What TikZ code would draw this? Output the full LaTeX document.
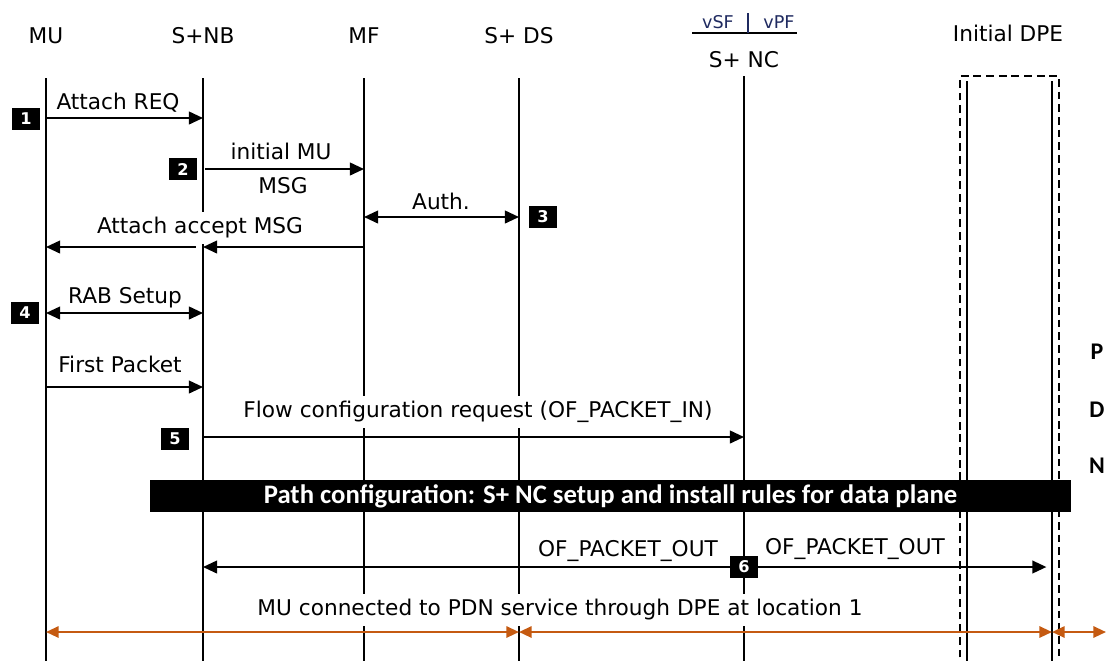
\documentclass[tikz,border=0pt]{standalone}
\usepackage{fontspec}
\setmainfont{DejaVu Sans}
\newfontfamily\barfont{Carlito}
\usetikzlibrary{arrows.meta}
\definecolor{pdnorange}{HTML}{C55A11}
\definecolor{vnavy}{HTML}{1F2A60}

\begin{document}
\begin{tikzpicture}[x=0.025cm, y=-0.025cm,
    every node/.style={font=\fontsize{15.4}{17}\selectfont, inner sep=1pt},
    life/.style={line width=1pt},
    msg/.style={line width=1.4pt, -{Triangle[length=10pt,width=9pt]}},
    msgb/.style={line width=1.4pt, {Triangle[length=10pt,width=9pt]}-{Triangle[length=10pt,width=9pt]}},
    pdn/.style={draw=pdnorange, line width=1.6pt, {Triangle[length=9pt,width=8pt]}-{Triangle[length=9pt,width=8pt]}},
    lbl/.style={fill=white, inner xsep=2pt, inner ysep=4pt},
    stepnum/.style={fill=black, text=white, font=\fontsize{11.5}{12}\selectfont\bfseries,
                    minimum width=20pt, minimum height=15.5pt, inner sep=0pt},
    banner/.style={fill=black, text=white, font=\fontsize{19}{21}\barfont\bfseries,
                   minimum width=23.025cm, minimum height=0.8cm, inner sep=0pt},
    pdnletter/.style={font=\fontsize{17}{19}\barfont\bfseries},
]
    \useasboundingbox (0,0) rectangle (1108,660);

    % 1. Lifelines with their headers
    \foreach \n/\x/\t in {mu/46/MU, nb/203/S+NB, mf/364/MF, ds/519/S+ DS} {
        \node (\n-head) at (\x,36) {\t};
        \coordinate (\n) at (\x,78);
        \coordinate (\n-end) at (\x,665);
        \draw[life] (\n) -- (\n-end);
    }
    \node (nc-head) at (744,60) {S+ NC};
    \coordinate (nc) at (744,76);
    \coordinate (nc-end) at (744,665);
    \draw[life] (nc) -- (nc-end);

    % vSF | vPF above the controller
    \node[font=\fontsize{12.5}{14}\selectfont, text=vnavy] (vsf) at (718,22) {vSF};
    \node[font=\fontsize{12.5}{14}\selectfont, text=vnavy] (vpf) at (779,22) {vPF};
    \draw[line width=1pt] (692,33) -- (797,33);
    \draw[line width=1pt, vnavy] (748,13) -- (748,33);

    % 2. Initial DPE: dashed frame and double line
    \node (dpe-head) at (1008,33) {Initial DPE};
    \draw[dashed, dash pattern=on 5.5pt off 3.5pt, line width=1pt] (960,670) |- (1059,76) -- (1059,670);
    \coordinate (dpe-l) at (967,81);
    \coordinate (dpe-r) at (1052,81);
    \draw[line width=1.1pt] (dpe-l) -- (967,670);
    \draw[line width=1.1pt] (dpe-r) -- (1052,670);

    % 3. Rows of the messages
    \foreach \r/\y in {r1/118, r2/169, r3/217, r4/247, r5/313, r6/387, r7/437, r8/567, r9/632} {
        \coordinate (\r) at (0,\y);
    }

    % 4. Message labels (white fill cuts the lifelines)
    \node[lbl] (l-req) at (118,103) {Attach REQ};
    \node[lbl] (l-init) at (281,151) {initial MU};
    \node[lbl] (l-msg) at (283,186) {MSG};
    \node[lbl] (l-auth) at (441,201) {Auth.};
    \node[lbl] (l-acc) at (200,228) {Attach accept MSG};
    \node[lbl] (l-rab) at (125,298) {RAB Setup};
    \node[lbl] (l-first) at (120,364) {First Packet};
    \node[lbl] (l-flow) at (478,412) {Flow configuration request (OF\_PACKET\_IN)};
    \node[lbl] (l-out1) at (628,551) {OF\_PACKET\_OUT};
    \node[lbl] (l-out2) at (855,549) {OF\_PACKET\_OUT};
    \node[lbl] (l-pdn) at (560,610) {MU connected to PDN service through DPE at location 1};

    % 5. Path configuration bar
    \node[banner] (path) at (610.5,496) {Path configuration: S+ NC setup and install rules for data plane};

    % P D N on the right
    \node[pdnletter] (p) at (1097,352) {P};
    \node[pdnletter] (d) at (1097,410) {D};
    \node[pdnletter] (n) at (1097,466) {N};

    % 6. Messages
    \draw[msg] (mu |- r1) -- (nb |- r1);
    \draw[msg, shorten <=1.5pt] (nb |- r2) -- (mf |- r2);
    \draw[msgb] (mf |- r3) -- (ds |- r3);
    \draw[msg] (mf |- r4) -- (nb |- r4);
    \draw[msg, shorten <=5pt] (nb |- r4) -- (mu |- r4);
    \draw[msgb] (mu |- r5) -- (nb |- r5);
    \draw[msg] (mu |- r6) -- (nb |- r6);
    \draw[msg] (nb |- r7) -- (nc |- r7);
    \draw[msg] (nc |- r8) -- (nb |- r8);
    \draw[msg, shorten >=4pt] (nc |- r8) -- (dpe-r |- r8);

    % 7. Data path (orange)
    \coordinate (pdn-end) at (1106,632);
    \draw[pdn] (mu |- r9) -- (ds |- r9);
    \draw[pdn] (ds |- r9) -- (dpe-r |- r9);
    \draw[pdn, shorten >=0pt] (dpe-r |- r9) -- (pdn-end);

    % 8. Step numbers
    \node[stepnum] (s1) at (26,119) {1};
    \node[stepnum] (s2) at (183,169) {2};
    \node[stepnum] (s3) at (543,217) {3};
    \node[stepnum] (s4) at (25,313) {4};
    \node[stepnum] (s5) at (175,439) {5};
    \node[stepnum] (s6) at (744,567) {6};
\end{tikzpicture}
\end{document}
